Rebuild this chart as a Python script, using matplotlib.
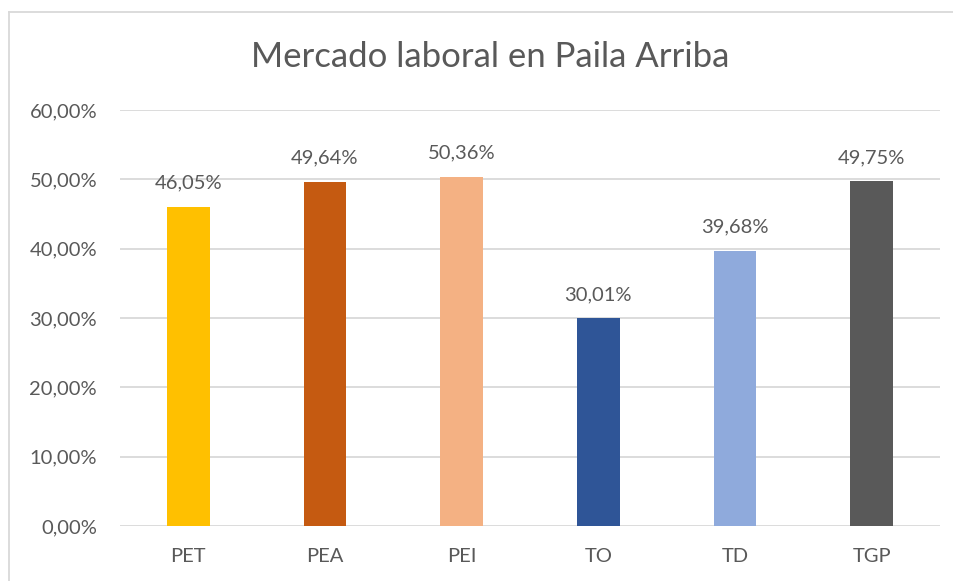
import matplotlib
matplotlib.use("Agg")
import matplotlib.pyplot as plt
from matplotlib.lines import Line2D

categories = ["PET", "PEA", "PEI", "TO", "TD", "TGP"]
values = [46.05, 49.64, 50.36, 30.01, 39.68, 49.75]
colors = ["#FFC000", "#C55A11", "#F4B183", "#2F5597", "#8FAADC", "#595959"]
yticks = [0, 10, 20, 30, 40, 50, 60]
title = "Mercado laboral en Paila Arriba"

plt.rcParams['font.family'] = ['Lato', 'DejaVu Sans']
txt = "#595959"

fig = plt.figure(figsize=(9.54, 5.81), dpi=100)
ax = fig.add_axes([120/954, 1-526/581, (940-120)/954, (526-110)/581])

x = list(range(len(categories)))
bars = ax.bar(x, values, width=0.31, color=colors, zorder=3)
ax.set_xlim(-0.5, len(categories)-0.5)
ax.set_ylim(0, 60)
ax.set_yticks(yticks)
ax.set_yticklabels([f"{v:.2f}".replace(".", ",") + "%" for v in yticks])
ax.set_xticks(x)
ax.set_xticklabels(categories)
ax.tick_params(axis='both', length=0, colors=txt, labelsize=14.5)
ax.tick_params(axis='y', pad=16.5)
ax.tick_params(axis='x', pad=16)
ax.yaxis.grid(True, color="#D9D9D9", linewidth=1.3, zorder=0)
for s in ax.spines.values():
    s.set_visible(False)

for xi, v in zip(x, values):
    ax.annotate(f"{v:.2f}".replace(".", ",") + "%", (xi, v), xytext=(0, 13),
                textcoords="offset points", ha="center", va="baseline",
                fontsize=14.5, color=txt)

fig.text(490/954, 1-57/581, title, ha="center", va="center", fontsize=25, color=txt)

# chart border (top and left visible)
fig.add_artist(Line2D([9/954, 9/954], [0, 1-12/581], transform=fig.transFigure, color="#D9D9D9", lw=1.3))
fig.add_artist(Line2D([9/954, 1], [1-12/581, 1-12/581], transform=fig.transFigure, color="#D9D9D9", lw=1.3))

fig.savefig("out.png", dpi=100)
